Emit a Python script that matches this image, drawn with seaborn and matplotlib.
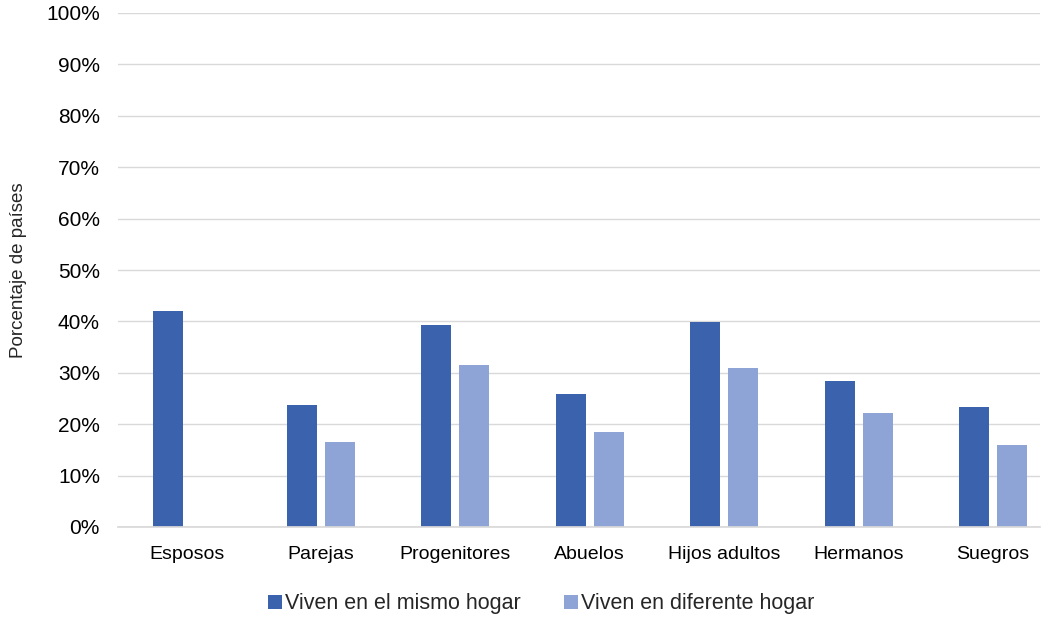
import matplotlib
matplotlib.use("Agg")
import matplotlib.pyplot as plt
import seaborn as sns
import pandas as pd
from matplotlib.ticker import PercentFormatter
from matplotlib.patches import Patch

categorias = ["Esposos", "Parejas", "Progenitores", "Abuelos", "Hijos adultos", "Hermanos", "Suegros"]
mismo_hogar = [42.0, 23.8, 39.3, 25.8, 39.9, 28.4, 23.3]
diferente_hogar = [0.0, 16.5, 31.5, 18.5, 30.9, 22.2, 16.0]
series = ["Viven en el mismo hogar", "Viven en diferente hogar"]
colores = ["#3b63ad", "#8fa4d6"]

df = pd.DataFrame({
    "cat": categorias * 2,
    "serie": [series[0]] * len(categorias) + [series[1]] * len(categorias),
    "valor": mismo_hogar + diferente_hogar,
})

sns.set_theme(style="white")
plt.rcParams["font.family"] = ["Liberation Sans", "DejaVu Sans"]

fig = plt.figure(figsize=(10.5, 6.17), dpi=100)
ax = fig.add_axes([118 / 1050, 1 - 527 / 617, (1040 - 118) / 1050, (527 - 13) / 617])

sns.barplot(data=df, x="cat", y="valor", hue="serie", order=categorias, hue_order=series,
            palette=colores, saturation=1, width=0.566, gap=0.212, ax=ax, legend=False,
            edgecolor="none", linewidth=0, errorbar=None)

ax.set_ylim(0, 100)
ax.set_xlim(-0.51, 6.35)
ax.set_yticks(range(0, 101, 10))
ax.yaxis.set_major_formatter(PercentFormatter(decimals=0))
ax.grid(axis="y", color="#d9d9d9", linewidth=1)
ax.set_axisbelow(True)
for s in ["top", "right", "left"]:
    ax.spines[s].set_visible(False)
ax.spines["bottom"].set_color("#d9d9d9")
ax.tick_params(axis="y", length=0, labelsize=15, colors="black", pad=13)
ax.tick_params(axis="x", length=0, labelsize=14, colors="black", pad=14)
ax.set_xlabel("")
ax.set_ylabel("Porcentaje de países", fontsize=13.5)
ax.yaxis.set_label_coords(-0.099, 0.5)

handles = [Patch(facecolor=c, edgecolor="none") for c in colores]
fig.legend(handles, series, loc="center", bbox_to_anchor=(541 / 1050, 1 - 604 / 617),
           ncol=2, frameon=False, fontsize=15.5, handlelength=0.65, handleheight=0.65,
           handletextpad=0.15, columnspacing=2.0)

fig.savefig("out.png", dpi=100)
